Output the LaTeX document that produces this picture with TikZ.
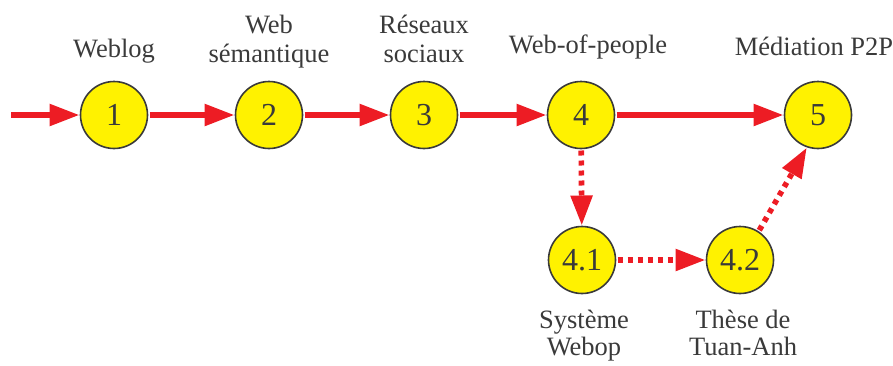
\documentclass[tikz,border=0pt]{standalone}
\usepackage{fontspec}
\setmainfont{Liberation Serif}
\usetikzlibrary{arrows.meta}
\definecolor{arrred}{HTML}{ED1C24}
\definecolor{circyel}{HTML}{FFF200}
\definecolor{txtgray}{HTML}{3A3A3A}
\tikzset{
  stage/.style={circle, draw=txtgray, line width=1.6pt, fill=circyel, minimum size=67pt, inner sep=0pt, outer sep=1pt,
    text=txtgray, font=\fontsize{32}{32}\selectfont},
  lbl/.style={text=txtgray, align=center, inner sep=0pt, anchor=base, font=\fontsize{26.5}{29}\selectfont},
  lblb/.style={text=txtgray, align=center, inner sep=0pt, anchor=base, font=\fontsize{26.5}{27}\selectfont},
  flow/.style={draw=arrred, line width=5.6pt, -{Triangle[length=30pt,width=21pt]}, arrred, shorten <=1pt},
  dflow/.style={flow, dash pattern=on 5pt off 5pt}
}
\begin{document}
\begin{tikzpicture}[x=1pt,y=-1pt]
\useasboundingbox (0,0) rectangle (893,365);
\node[stage] (n1) at (114,115) {1};
\node[stage] (n2) at (269,115) {2};
\node[stage] (n3) at (424,115) {3};
\node[stage] (n4) at (581,115) {4};
\node[stage] (n5) at (818,115) {5};
\node[stage] (n41) at (582,260) {4.1};
\node[stage] (n42) at (740,260) {4.2};
\coordinate (start) at (10,115);
\node[lbl] (l1) at (114,57) {Weblog};
\node[lbl] (l2) at (269,62) {Web\\sémantique};
\node[lbl] (l3) at (424,62) {Réseaux\\sociaux};
\node[lbl] (l4) at (588,53) {Web-of-people};
\node[lbl] (l5) at (814,55) {Médiation P2P};
\node[lblb] (l41) at (584,355) {Système\\Webop};
\node[lblb] (l42) at (743,355) {Thèse de\\Tuan-Anh};
\draw[flow] (start) -- (n1);
\draw[flow] (n1) -- (n2);
\draw[flow] (n2) -- (n3);
\draw[flow] (n3) -- (n4);
\draw[flow] (n4) -- (n5);
\draw[dflow] (n4) -- (n41);
\draw[dflow] (n41) -- (n42);
\draw[dflow] (n42.57) -- (n5.-109);
\end{tikzpicture}
\end{document}
